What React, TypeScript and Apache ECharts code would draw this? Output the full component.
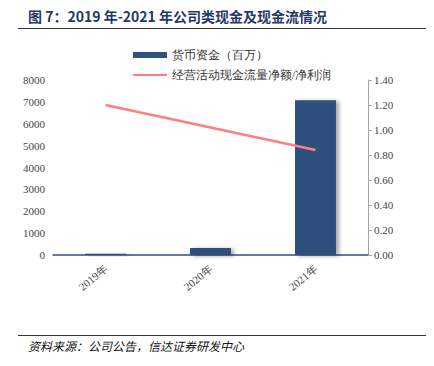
import React, { useEffect, useRef } from "react";
import * as echarts from "echarts";

const categories = ["2019年", "2020年", "2021年"];
const cashValues = [60, 320, 7080];
const ratioValues = [1.2, 1.02, 0.84];
const barName = "货币资金（百万）";
const lineName = "经营活动现金流量净额/净利润";
const titleText = "图 7：2019 年-2021 年公司类现金及现金流情况";
const sourceText = "资料来源：公司公告，信达证券研发中心";

const serif = "serif";

export default function App() {
  const ref = useRef<HTMLDivElement>(null);
  useEffect(() => {
    if (!ref.current) return;
    const chart = echarts.init(ref.current, undefined, { renderer: "svg" });
    chart.setOption({
      animation: false,
      backgroundColor: "#ffffff",
      graphic: [
        {
          type: "text",
          left: 28,
          top: 9,
          style: {
            text: titleText,
            fontSize: 14,
            fontWeight: "bold",
            fill: "#1f3a68",
            fontFamily: "Noto Sans CJK SC, sans-serif",
          },
        },
        {
          type: "line",
          shape: { x1: 18, y1: 28.5, x2: 434, y2: 28.5 },
          style: { stroke: "#333", lineWidth: 1 },
        },
        {
          type: "line",
          shape: { x1: 18, y1: 335.5, x2: 434, y2: 335.5 },
          style: { stroke: "#333", lineWidth: 1 },
        },
        {
          type: "text",
          left: 28,
          top: 339,
          style: {
            text: sourceText,
            fontSize: 12,
            fontStyle: "italic",
            fill: "#111",
            fontFamily: "Noto Sans CJK SC, sans-serif",
          },
        },
      ],
      legend: {
        orient: "vertical",
        left: 127,
        top: 44,
        itemWidth: 34,
        itemHeight: 6,
        itemGap: 8,
        textStyle: { fontSize: 12, color: "#333", fontFamily: serif },
        data: [
          { name: barName, icon: "rect" },
          { name: lineName, itemStyle: { color: "rgba(0,0,0,0)", borderWidth: 0 } },
        ],
      },
      grid: { left: 53, right: 66, top: 80, bottom: 111 },
      xAxis: {
        type: "category",
        data: categories,
        axisLine: { lineStyle: { color: "#2f4f7f", width: 1.5 } },
        axisTick: { inside: true, length: 5, lineStyle: { color: "#2f4f7f" } },
        axisLabel: {
          rotate: 40,
          margin: 12,
          fontSize: 11,
          color: "#444",
          fontFamily: serif,
        },
      },
      yAxis: [
        {
          type: "value",
          min: 0,
          max: 8000,
          interval: 1000,
          axisLine: { show: false },
          axisTick: { show: false },
          splitLine: { show: false },
          axisLabel: {
            fontSize: 11,
            color: "#444",
            margin: 8,
            fontFamily: serif,
            formatter: (v: number) => String(v),
          },
        },
        {
          type: "value",
          min: 0,
          max: 1.4,
          interval: 0.2,
          position: "right",
          axisLine: { show: true, lineStyle: { color: "#a6a6a6" } },
          axisTick: { show: true, length: 4, lineStyle: { color: "#a6a6a6" } },
          splitLine: { show: false },
          axisLabel: {
            fontSize: 11,
            color: "#444",
            margin: 6,
            fontFamily: serif,
            formatter: (v: number) => v.toFixed(2),
          },
        },
      ],
      series: [
        {
          name: barName,
          type: "bar",
          data: cashValues,
          barWidth: "39%",
          itemStyle: {
            color: "#2f4f7c",
            shadowColor: "rgba(0,0,0,0.35)",
            shadowBlur: 4,
            shadowOffsetX: 3,
            shadowOffsetY: 1,
          },
        },
        {
          name: lineName,
          type: "line",
          yAxisIndex: 1,
          data: ratioValues,
          symbol: "none",
          lineStyle: { color: "#ff7f7f", width: 2.5 },
          itemStyle: { color: "#ff7f7f" },
        },
      ],
    });
    return () => chart.dispose();
  }, []);
  return <div ref={ref} style={{ width: 434, height: 366, marginLeft: -8, marginTop: -8 }} />;
}
